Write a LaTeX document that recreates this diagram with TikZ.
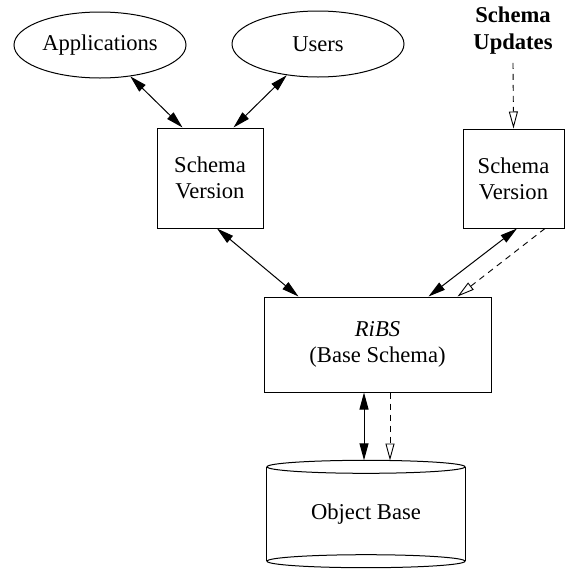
\documentclass[tikz,border=0pt]{standalone}
\usepackage{fontspec}
\setmainfont{Liberation Serif}
\usetikzlibrary{arrows.meta,shapes.geometric}

\tikzset{
  txt/.style={font=\fontsize{22.6}{26}\selectfont, align=center, inner sep=0pt},
  oval/.style={txt, draw, ellipse, minimum width=172pt, minimum height=66pt, line width=1pt},
  svbox/.style={txt, draw, rectangle, line width=1pt},
  link/.style={line width=1pt, {Triangle[length=17pt,width=9pt]}-{Triangle[length=17pt,width=9pt]}},
  evol/.style={line width=0.9pt, dash pattern=on 6pt off 5pt, -{Triangle[open,length=17pt,width=9pt]}},
}

\begin{document}
\begin{tikzpicture}[x=1pt,y=-1pt]
  \useasboundingbox (0,0) rectangle (569,568);

  % clients
  \node[oval] (app) at (100,45) {Applications};
  \node[oval] (usr) at (318,44) {Users};

  % schema versions
  \node[svbox, minimum width=106pt, minimum height=100pt] (sv1) at (210,178) {Schema\\Version};
  \node[svbox, minimum width=101pt, minimum height=99pt] (sv2) at (513.5,178.5) {Schema\\Version};
  \node[txt, font=\fontsize{22.6}{27}\selectfont\bfseries] (upd) at (513,31) {Schema\\Updates};

  % base schema
  \node[svbox, minimum width=227pt, minimum height=95pt] (ribs) at (377.5,344.5) {\textit{RiBS}\\(Base Schema)};

  % object base cylinder
  \node[txt, minimum width=198pt, minimum height=94pt] (ob) at (366,514) {Object Base};
  \begin{scope}[line width=1pt]
    \draw (ob.north) ellipse [x radius=99pt, y radius=6.5pt];
    \draw (ob.south) ellipse [x radius=99pt, y radius=6.5pt];
    \draw (ob.north west) -- (ob.south west);
    \draw (ob.north east) -- (ob.south east);
  \end{scope}

  % connectors
  \draw[link] (app.-46) -- ([xshift=26pt]sv1.north west);
  \draw[link] (usr.-135) -- ([xshift=-30pt]sv1.north east);
  \draw[link] ([xshift=7pt]sv1.south) -- ([xshift=35pt]ribs.north west);
  \draw[link] ([xshift=3.5pt]sv2.south) -- ([xshift=-63pt]ribs.north east);
  \draw[link] ([xshift=-13.5pt]ribs.south) -- ([xshift=-2pt,yshift=6.5pt]ob.north);

  \draw[evol] ([yshift=-8pt]upd.south) -- (sv2.north);
  \draw[evol] ([xshift=31.5pt]sv2.south) -- ([xshift=-34pt]ribs.north east);
  \draw[evol] ([xshift=12.5pt]ribs.south) -- ([xshift=24pt,yshift=6.3pt]ob.north);
\end{tikzpicture}
\end{document}
